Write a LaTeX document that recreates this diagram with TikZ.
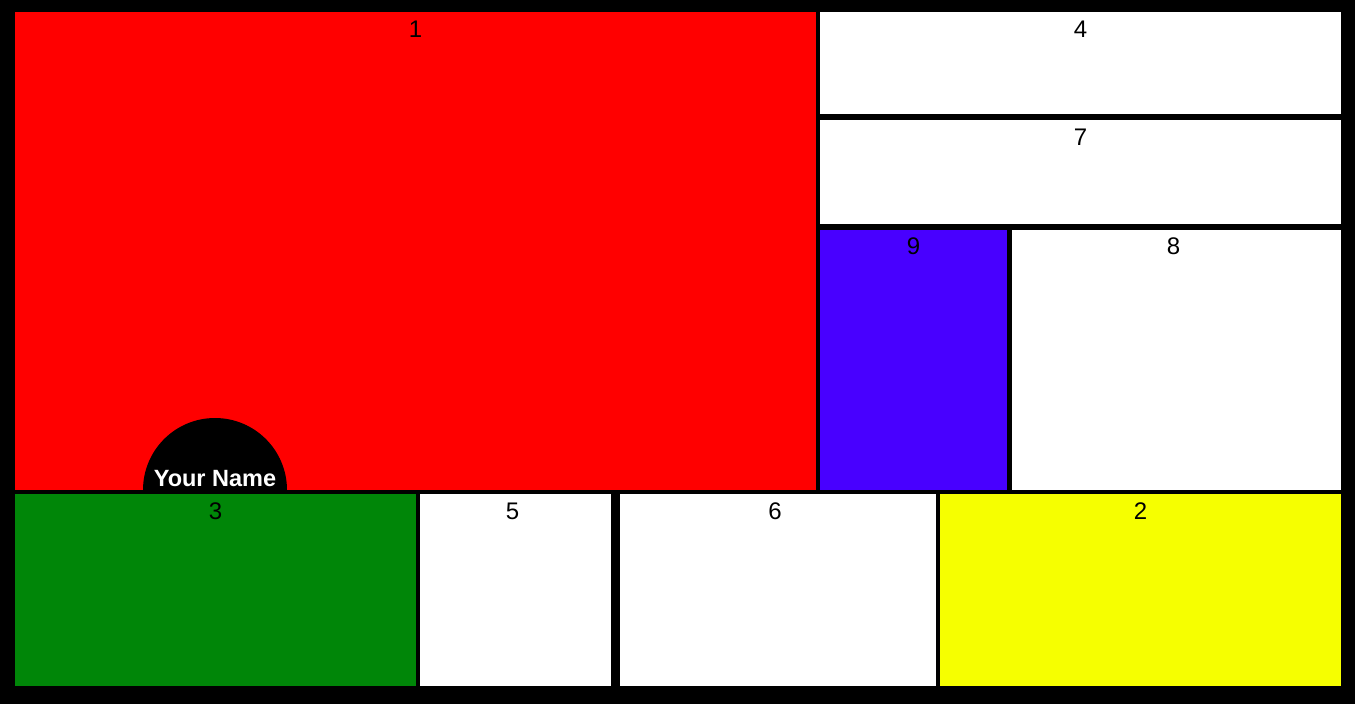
\documentclass[tikz,border=0pt]{standalone}
\usepackage{fontspec}
\setmainfont{Liberation Sans}
\usetikzlibrary{positioning}

\definecolor{mondred}{RGB}{255,0,0}
\definecolor{mondblue}{RGB}{72,0,255}
\definecolor{mondgreen}{RGB}{0,134,8}
\definecolor{mondyellow}{RGB}{246,255,0}
\newcommand{\tagfont}{\fontsize{24}{24}\selectfont}

\begin{document}
\begin{tikzpicture}[x=1pt,y=-1pt]
\tikzset{
  panel/.style={rectangle,inner sep=0pt,outer sep=0pt,anchor=north west,draw=none},
  tag/.style={anchor=north,inner sep=0pt,font=\tagfont,text=black},
  badgetext/.style={inner sep=0pt,font=\fontsize{23.5}{24}\selectfont\bfseries,text=white}
}
\fill[black] (0,0) rectangle (1355,704);
% top row
\node[panel,fill=mondred,minimum width=801pt,minimum height=478pt] (p_1) at (15,12) {};
\node[panel,fill=white,minimum width=521pt,minimum height=102pt] (p_4) at (820,12) {};
\node[panel,fill=white,minimum width=521pt,minimum height=104pt] (p_7) at (820,120) {};
\node[panel,fill=mondblue,minimum width=187pt,minimum height=260pt] (p_9) at (820,230) {};
\node[panel,fill=white,minimum width=329pt,minimum height=260pt] (p_8) at (1012,230) {};
% bottom row
\node[panel,fill=mondgreen,minimum width=401pt,minimum height=192pt] (p_3) at (15,494) {};
\node[panel,fill=white,minimum width=191pt,minimum height=192pt] (p_5) at (420,494) {};
\node[panel,fill=white,minimum width=316pt,minimum height=192pt] (p_6) at (620,494) {};
\node[panel,fill=mondyellow,minimum width=401pt,minimum height=192pt] (p_2) at (940,494) {};
% numbers
\node[tag] (t_1) at ([yshift=-9pt]p_1.north) {1};
\node[tag] (t_4) at ([yshift=-9pt]p_4.north) {4};
\node[tag] (t_7) at ([yshift=-9pt]p_7.north) {7};
\node[tag] (t_9) at ([yshift=-8pt]p_9.north) {9};
\node[tag] (t_8) at ([yshift=-8pt,xshift=-3pt]p_8.north) {8};
\node[tag] (t_3) at ([yshift=-9pt]p_3.north) {3};
\node[tag] (t_5) at ([yshift=-9pt,xshift=-3pt]p_5.north) {5};
\node[tag] (t_6) at ([yshift=-9pt,xshift=-3pt]p_6.north) {6};
\node[tag] (t_2) at ([yshift=-9pt]p_2.north) {2};
% name badge
\coordinate (c_badge) at (215,490);
\fill[black] ([xshift=-72pt]c_badge) arc[start angle=180,end angle=360,radius=72] -- cycle;
\node[badgetext] (n_name) at (215,479) {Your Name};
\end{tikzpicture}
\end{document}
